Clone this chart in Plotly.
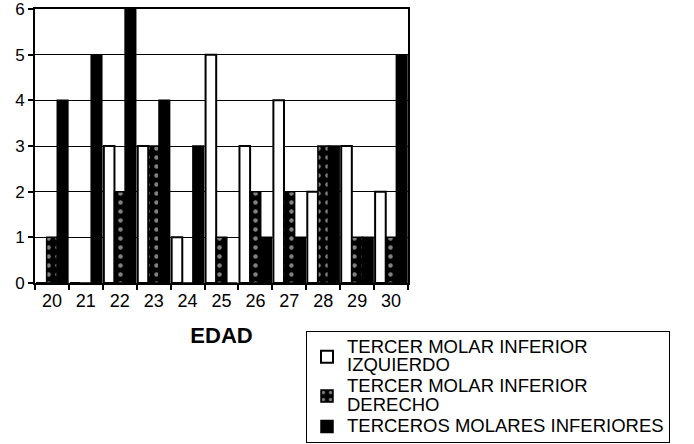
import plotly.graph_objects as go

edades = ["20", "21", "22", "23", "24", "25", "26", "27", "28", "29", "30"]
izquierdo = [0, 0, 3, 3, 1, 5, 3, 4, 2, 3, 2]
derecho = [1, 0, 2, 3, 0, 1, 2, 2, 3, 1, 1]
ambos = [4, 5, 6, 4, 3, 0, 1, 1, 3, 1, 5]
yticks = [0, 1, 2, 3, 4, 5, 6]

names = [
    "TERCER MOLAR INFERIOR<br>IZQUIERDO",
    "TERCER MOLAR INFERIOR<br>DERECHO",
    "TERCEROS MOLARES INFERIORES",
]


def big(t):
    return "<br>".join(f"<span style='font-size:18.5px'>{p}</span>" for p in t.split("<br>"))


font = "Liberation Sans, Arial, sans-serif"

fig = go.Figure()
fig.add_trace(go.Bar(
    x=edades, y=izquierdo, name=big(names[0]),
    marker=dict(color="white", line=dict(color="black", width=2)),
))
fig.add_trace(go.Bar(
    x=edades, y=derecho, name=big(names[1]),
    marker=dict(color="black", line=dict(color="black", width=1.5),
                pattern=dict(shape=".", fgcolor="white", bgcolor="black",
                             size=9, solidity=0.2, fillmode="overlay")),
))
fig.add_trace(go.Bar(
    x=edades, y=ambos, name=big(names[2]),
    marker=dict(color="black", line=dict(color="black", width=1.5)),
))

fig.update_layout(
    width=694, height=444,
    margin=dict(l=35, r=286, t=9, b=161, autoexpand=False),
    paper_bgcolor="white", plot_bgcolor="white",
    barmode="group", bargap=0.06, bargroupgap=0,
    font=dict(family=font, color="black", size=16),
    showlegend=True,
    legend=dict(
        xref="container", yref="container",
        x=306 / 694, y=1 - 331 / 444, xanchor="left", yanchor="top",
        bordercolor="black", borderwidth=1, bgcolor="white",
        font=dict(size=14, family=font, color="black"),
        tracegroupgap=0, itemwidth=30,
    ),
)

fig.update_xaxes(
    type="category", tickson="boundaries", ticks="outside", ticklen=5,
    tickcolor="black", tickwidth=1.5,
    showline=True, linecolor="black", linewidth=2, mirror=True,
    showgrid=False, tickfont=dict(size=18),
    title=dict(text="<b>EDAD</b>", font=dict(size=22), standoff=18),
)
fig.update_yaxes(
    range=[0, 6], tickmode="array", tickvals=yticks, ticks="outside", ticklen=5,
    tickcolor="black", tickwidth=1.5, ticklabeloverflow="allow",
    showline=True, linecolor="black", linewidth=2, mirror=True,
    showgrid=True, gridcolor="black", gridwidth=1,
    tickfont=dict(size=17), zeroline=False,
)

fig.write_html("out.html", config={"displayModeBar": False},
               post_script="document.body.style.margin='0';")
